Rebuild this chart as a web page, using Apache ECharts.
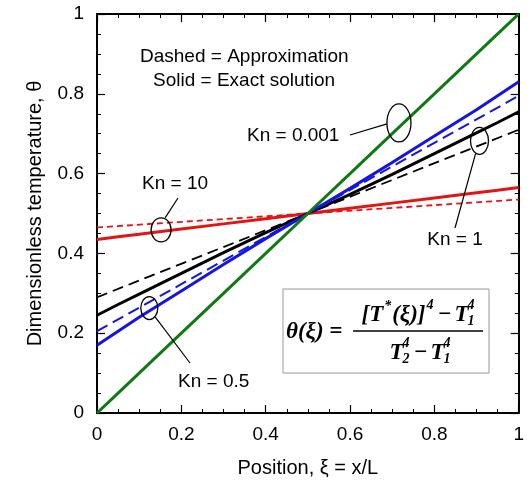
<!DOCTYPE html>
<html>
<head>
<meta charset="utf-8">
<script src="https://cdn.jsdelivr.net/npm/echarts@6/dist/echarts.min.js"></script>
<style>
  html, body { margin: 0; padding: 0; background: #fff; }
  #chart { width: 527px; height: 485px; }
</style>
</head>
<body>
<div id="chart"></div>
<script>
// Dimensionless temperature profiles between two plates
const positions = [0, 0.05, 0.1, 0.2, 0.3, 0.4, 0.5, 0.6, 0.7, 0.8, 0.9, 0.95, 1];
const exactKn0001 = [0, 0.05, 0.1, 0.2, 0.3, 0.4, 0.5, 0.6, 0.7, 0.8, 0.9, 0.95, 1];
const exactKn05 = [0.17, 0.205, 0.24, 0.306, 0.372, 0.437, 0.5, 0.563, 0.628, 0.694, 0.76, 0.795, 0.83];
const exactKn1 = [0.245, 0.272, 0.298, 0.35, 0.402, 0.452, 0.5, 0.548, 0.598, 0.65, 0.702, 0.728, 0.755];
const exactKn10 = [0.435, 0.442, 0.448, 0.461, 0.474, 0.487, 0.5, 0.513, 0.526, 0.539, 0.552, 0.558, 0.565];

const approxPositions = [0, 1];
const approxKn05 = [0.205, 0.795];
const approxKn1 = [0.29, 0.71];
const approxKn10 = [0.465, 0.535];

const tickLabels = ['0', '0.2', '0.4', '0.6', '0.8', '1'];

const pairs = (xs, ys) => xs.map((x, i) => [x, ys[i]]);
const labelFor = v => tickLabels[Math.round(v / 0.2)];

const SANS = '"Liberation Sans", Arial, sans-serif';
const SERIF = '"Liberation Serif", "Times New Roman", serif';

function frameAxis(position, withLabels, extra) {
  return Object.assign({
    type: 'value',
    position: position,
    min: 0,
    max: 1,
    interval: 0.2,
    axisLine: { show: true, onZero: false, lineStyle: { color: '#000', width: 2 } },
    axisTick: { show: true, inside: true, length: 8, lineStyle: { color: '#000', width: 1.2 } },
    minorTick: { show: true, splitNumber: 4, length: 4, lineStyle: { color: '#000', width: 1 } },
    splitLine: { show: false },
    axisLabel: withLabels
      ? { show: true, formatter: labelFor, color: '#000', fontFamily: SANS, fontSize: 19 }
      : { show: false }
  }, extra || {});
}

function solid(data, color) {
  return {
    type: 'line', data: data, symbol: 'none', silent: true,
    lineStyle: { color: color, width: 3, type: 'solid' }
  };
}
function dashed(data, color, width, dash) {
  return {
    type: 'line', data: data, symbol: 'none', silent: true,
    lineStyle: { color: color, width: width, type: dash }
  };
}

const chart = echarts.init(document.getElementById('chart'), null, { renderer: 'canvas' });

chart.setOption({
  animation: false,
  backgroundColor: '#fff',
  grid: { left: 97, right: 1, top: 14, bottom: 72, containLabel: false },
  xAxis: [
    frameAxis('bottom', true, {
      name: 'Position, \u03be = x/L',
      nameLocation: 'middle',
      nameGap: 45,
      nameTextStyle: { color: '#000', fontFamily: SANS, fontSize: 20 },
      axisLabel: { show: true, formatter: labelFor, color: '#000', fontFamily: SANS, fontSize: 19, margin: 12 }
    }),
    frameAxis('top', false)
  ],
  yAxis: [
    frameAxis('left', true, {
      name: 'Dimensionless temperature, \u03b8',
      nameLocation: 'middle',
      nameGap: 52,
      nameTextStyle: { color: '#000', fontFamily: SANS, fontSize: 20 },
      axisLabel: { show: true, formatter: labelFor, color: '#000', fontFamily: SANS, fontSize: 19, margin: 13 }
    }),
    frameAxis('right', false)
  ],
  series: [
    solid(pairs(positions, exactKn10), '#e41414'),
    solid(pairs(positions, exactKn1), '#000000'),
    solid(pairs(positions, exactKn05), '#1414e6'),
    dashed(pairs(approxPositions, approxKn10), '#e41414', 1.8, [6, 4]),
    dashed(pairs(approxPositions, approxKn1), '#000000', 1.8, [11, 6]),
    dashed(pairs(approxPositions, approxKn05), '#1414e6', 2, [12, 6]),
    solid(pairs(positions, exactKn0001), '#0f7a12')
  ]
});

// Annotations: callout ellipses, leaders, labels and the definition of theta
const ink = '#000';
const ellipse = (cx, cy, rx, ry) => ({
  type: 'ellipse', silent: true, z: 100,
  shape: { cx: cx, cy: cy, rx: rx, ry: ry },
  style: { fill: 'none', stroke: ink, lineWidth: 1.3 }
});
const leader = (x1, y1, x2, y2) => ({
  type: 'line', silent: true, z: 100,
  shape: { x1: x1, y1: y1, x2: x2, y2: y2 },
  style: { stroke: ink, lineWidth: 1.2 }
});
const label = (text, x, y, align) => ({
  type: 'text', silent: true, z: 100,
  style: { text: text, x: x, y: y, fill: ink, font: '19px ' + SANS, textAlign: align || 'left', textVerticalAlign: 'middle' }
});

const mathFont = size => 'italic bold ' + size + 'px ' + SERIF;
const measureCtx = document.createElement('canvas').getContext('2d');
function textWidth(s, size) {
  measureCtx.font = mathFont(size);
  return measureCtx.measureText(s).width;
}

// Lays out a row of math tokens; a token flagged "stack" shares the x of the previous one.
function mathRow(tokens, centerX, centerY) {
  const placed = [];
  let x = 0;
  let lastX = 0;
  let lastW = 0;
  tokens.forEach(tok => {
    const w = textWidth(tok.s, tok.size);
    let tx;
    if (tok.stack) {
      tx = lastX;
      x = Math.max(x, lastX + w + (tok.gap || 0));
    } else {
      tx = x + (tok.kern || 0);
      x = tx + w + (tok.gap || 0);
    }
    lastX = tx;
    lastW = w;
    placed.push({ tok: tok, x: tx });
  });
  const start = centerX - x / 2;
  return placed.map(p => ({
    type: 'text', silent: true, z: 101,
    style: {
      text: p.tok.s, x: start + p.x, y: centerY + (p.tok.dy || 0),
      fill: ink, font: mathFont(p.tok.size), textAlign: 'left', textVerticalAlign: 'middle'
    }
  }));
}

function definitionBox() {
  const big = 23;
  const small = 14;
  const numerator = [
    { s: '[', size: big },
    { s: 'T', size: big },
    { s: '*', size: small, dy: -9, kern: 1 },
    { s: '(\u03be)]', size: big, kern: 1 },
    { s: '4', size: small, dy: -10, kern: 1 },
    { s: '\u2212', size: big, kern: 4, gap: 3 },
    { s: 'T', size: big },
    { s: '1', size: small, dy: 6, kern: -1 },
    { s: '4', size: small, dy: -10, stack: true, kern: 0 }
  ];
  const denominator = [
    { s: 'T', size: big },
    { s: '2', size: small, dy: 6, kern: -1 },
    { s: '4', size: small, dy: -10, stack: true },
    { s: '\u2212', size: big, kern: 4, gap: 3 },
    { s: 'T', size: big },
    { s: '1', size: small, dy: 6, kern: -1 },
    { s: '4', size: small, dy: -10, stack: true }
  ];
  // nudge stacked superscripts a little right of the subscripts (italic slant)
  const shiftStacked = els => els;
  return [
    {
      type: 'rect', silent: true, z: 99,
      shape: { x: 283, y: 289, width: 206, height: 84 },
      style: { fill: '#fff', stroke: '#9a9a9a', lineWidth: 1 }
    },
    {
      type: 'text', silent: true, z: 101,
      style: { text: '\u03b8(\u03be) =', x: 286, y: 332, fill: ink, font: mathFont(23), textAlign: 'left', textVerticalAlign: 'middle' }
    },
    {
      type: 'line', silent: true, z: 101,
      shape: { x1: 353, y1: 331, x2: 483, y2: 331 },
      style: { stroke: ink, lineWidth: 1.5 }
    }
  ].concat(shiftStacked(mathRow(numerator, 418, 315)), shiftStacked(mathRow(denominator, 420, 353)));
}

function callouts() {
  const px = (x, y) => chart.convertToPixel({ gridIndex: 0 }, [x, y]);
  const e0001 = px(0.716, 0.727);
  const e1 = px(0.907, 0.682);
  const e10 = px(0.152, 0.459);
  const e05 = px(0.124, 0.263);
  return [
    label('Dashed = Approximation', 140, 57),
    label('Solid = Exact solution', 153, 81),

    ellipse(e0001[0], e0001[1], 12, 19),
    leader(350, 135, e0001[0] - 12, e0001[1] + 1),
    label('Kn = 0.001', 247, 136),

    ellipse(e1[0], e1[1], 9, 13.5),
    leader(e1[0] - 4, e1[1] + 13, 455, 228),
    label('Kn = 1', 455, 240, 'center'),

    ellipse(e10[0], e10[1], 10, 12),
    leader(e10[0] + 4, e10[1] - 12, 178, 198),
    label('Kn = 10', 175, 184, 'center'),

    ellipse(e05[0], e05[1], 8.5, 11.5),
    leader(e05[0] + 6, e05[1] + 9, 190, 363),
    label('Kn = 0.5', 178, 382)
  ].concat(definitionBox());
}

chart.setOption({ graphic: { elements: callouts() } });
</script>
</body>
</html>
